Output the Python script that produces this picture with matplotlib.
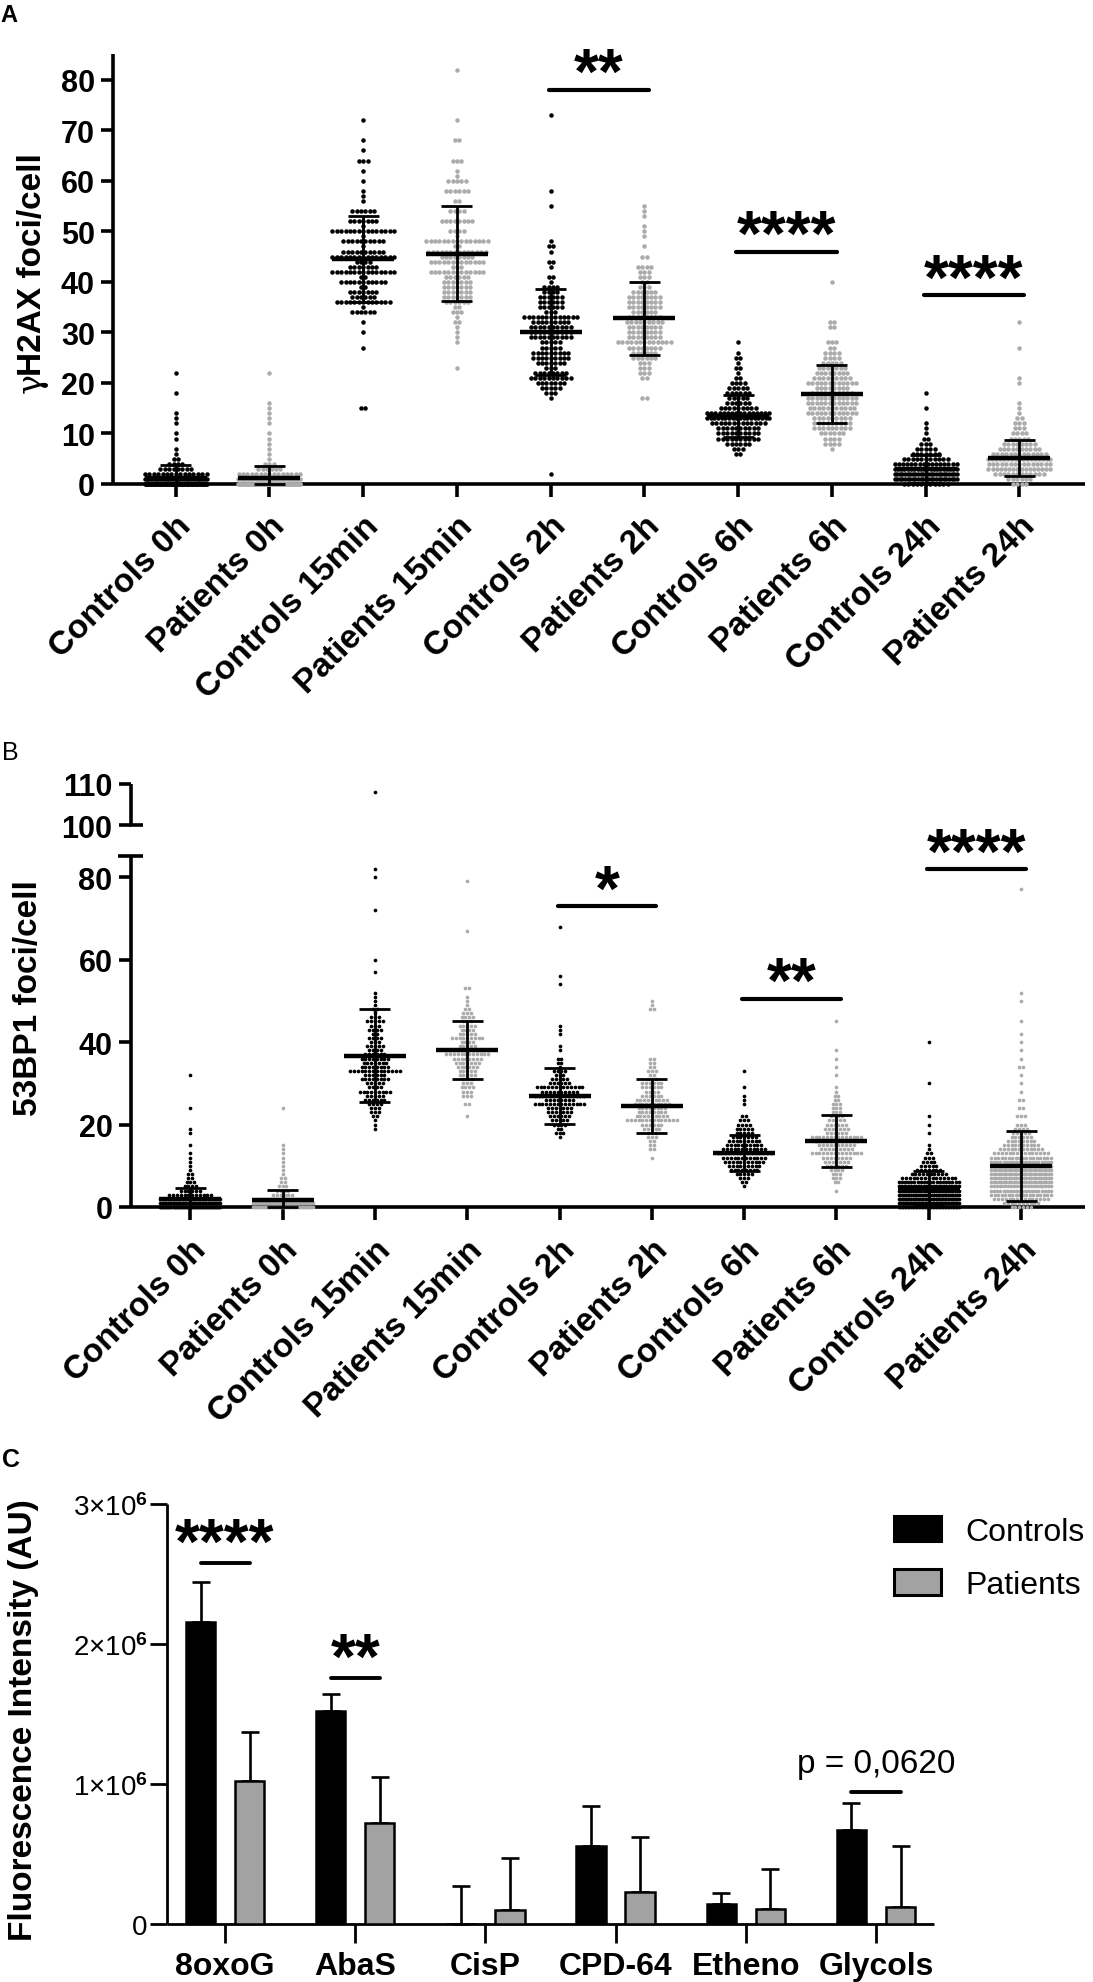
import numpy as np
import matplotlib
matplotlib.use("Agg")
import matplotlib.pyplot as plt
from matplotlib.lines import Line2D
from matplotlib.textpath import TextPath
from matplotlib.font_manager import FontProperties

plt.rcParams['font.family'] = ['Liberation Sans', 'DejaVu Sans']
plt.rcParams['font.weight'] = 'bold'
plt.rcParams['mathtext.fontset'] = 'custom'
plt.rcParams['mathtext.rm'] = 'Liberation Sans'
plt.rcParams['mathtext.it'] = 'Liberation Sans'
plt.rcParams['mathtext.bf'] = 'Liberation Sans:bold'

# ======================= DATA =======================
CATEGORIES = ['Controls 0h', 'Patients 0h', 'Controls 15min', 'Patients 15min',
              'Controls 2h', 'Patients 2h', 'Controls 6h', 'Patients 6h',
              'Controls 24h', 'Patients 24h']

# ---- Panel A: gammaH2AX foci/cell (value -> number of cells) ----
A_C0H_V = [0, 1, 2, 3, 4, 5, 6, 7, 9, 10, 12, 13, 14, 18, 22]
A_C0H_N = [75, 35, 15, 8, 4, 2, 1, 1, 1, 1, 1, 1, 1, 1, 1]
A_P0H_V = [0, 1, 2, 3, 4, 5, 6, 7, 8, 9, 10, 12, 13, 14, 15, 16, 22]
A_P0H_N = [70, 30, 15, 6, 3, 1, 1, 1, 1, 1, 1, 1, 1, 1, 1, 1, 1]
A_C15_V = [15, 27, 30, 32, 34, 35, 36, 37, 38, 39, 40, 41, 42, 43, 44, 45, 46, 47,
           48, 49, 50, 51, 52, 54, 56, 57, 58, 60, 62, 64, 66, 68, 72]
A_C15_N = [2, 1, 1, 1, 6, 1, 13, 6, 7, 2, 11, 2, 15, 7, 4, 15, 10, 1,
           10, 1, 15, 1, 7, 6, 1, 1, 1, 1, 1, 3, 1, 1, 1]
A_P15_V = [23, 28, 29, 30, 31, 32, 33, 34, 35, 36, 37, 38, 39, 40, 41, 42, 43, 44,
           45, 46, 47, 48, 49, 50, 52, 54, 56, 58, 60, 61, 62, 64, 68, 72, 82]
A_P15_N = [1, 1, 1, 1, 1, 2, 1, 3, 2, 6, 7, 7, 7, 7, 6, 13, 3, 13,
           8, 14, 2, 15, 1, 4, 8, 4, 2, 6, 5, 1, 1, 3, 2, 1, 1]
A_C2H_V = [2, 17, 18, 19, 20, 21, 22, 23, 24, 25, 26, 27, 28, 29, 30, 31, 32, 33,
           34, 35, 36, 37, 38, 39, 40, 41, 43, 44, 46, 47, 48, 55, 58, 73]
A_C2H_N = [1, 1, 3, 5, 7, 10, 8, 3, 7, 9, 9, 5, 5, 10, 10, 10, 9, 13,
           3, 6, 6, 6, 4, 4, 1, 2, 1, 2, 1, 2, 1, 1, 1, 1]
A_P2H_V = [17, 21, 22, 23, 24, 25, 26, 27, 28, 29, 30, 31, 32, 33, 34, 35, 36, 37,
           38, 39, 40, 41, 42, 43, 45, 47, 49, 50, 51, 53, 54, 55]
A_P2H_N = [2, 2, 3, 3, 3, 6, 6, 8, 13, 8, 8, 8, 9, 8, 6, 8, 8, 8,
           6, 3, 2, 3, 3, 4, 2, 1, 1, 1, 1, 1, 1, 1]
A_C6H_V = [6, 7, 8, 9, 10, 11, 12, 13, 14, 15, 16, 17, 18, 19, 20, 21, 22, 23, 24, 25, 26, 28]
A_C6H_N = [2, 3, 6, 10, 10, 10, 13, 18, 16, 9, 6, 5, 6, 5, 4, 2, 1, 2, 1, 2, 1, 1]
A_P6H_V = [7, 8, 9, 10, 11, 12, 13, 14, 15, 16, 17, 18, 19, 20, 21, 22, 23, 24, 25,
           26, 27, 28, 31, 32, 40]
A_P6H_N = [1, 4, 4, 6, 9, 9, 9, 12, 11, 12, 12, 10, 8, 12, 9, 8, 7, 5, 4,
           4, 2, 3, 2, 2, 1]
A_C24H_V = [0, 1, 2, 3, 4, 5, 6, 7, 8, 9, 10, 11, 12, 15, 18]
A_C24H_N = [11, 25, 25, 20, 16, 11, 7, 5, 3, 2, 1, 1, 1, 1, 1]
A_P24H_V = [0, 1, 2, 3, 4, 5, 6, 7, 8, 9, 10, 11, 12, 13, 14, 15, 16, 20, 21, 27, 32]
A_P24H_N = [4, 6, 12, 16, 15, 17, 13, 10, 8, 5, 4, 3, 3, 2, 1, 1, 1, 1, 1, 1, 1]

A_MEAN = [1.1, 1.1, 44.5, 45.6, 30.1, 32.8, 13.5, 17.85, 2.9, 5.1]
A_SD = [2.7, 2.5, 8.5, 9.4, 8.5, 7.2, 4.2, 5.75, 2.8, 3.55]
A_SIG_PAIRS = [(4, 5), (6, 7), (8, 9)]
A_SIG_Y = [78, 46, 37.3]
A_SIG_TXT = ['**', '****', '****']

# ---- Panel B: 53BP1 foci/cell (value -> number of cells) ----
B_C0H_V = [0, 1, 2, 3, 4, 5, 6, 7, 8, 9, 10, 11, 12, 13, 15, 18, 19, 24, 32]
B_C0H_N = [60, 40, 25, 12, 6, 4, 3, 2, 2, 1, 1, 1, 1, 1, 1, 1, 1, 1, 1]
B_P0H_V = [0, 1, 2, 3, 4, 5, 6, 7, 8, 9, 10, 11, 12, 13, 14, 15, 24]
B_P0H_N = [45, 30, 15, 6, 4, 3, 2, 2, 1, 1, 1, 1, 1, 1, 1, 1, 1]
B_C15_V = [19, 20, 21, 22, 23, 24, 25, 26, 27, 28, 29, 30, 31, 32, 33, 34, 35, 36, 37,
           38, 39, 40, 41, 42, 43, 44, 45, 46, 47, 48, 49, 50, 51, 52, 57, 60, 72, 80, 82, 108]
B_C15_N = [1, 1, 1, 2, 3, 3, 4, 6, 5, 9, 4, 5, 8, 6, 14, 8, 7, 8, 6,
           4, 5, 3, 4, 2, 4, 3, 5, 3, 1, 2, 1, 1, 1, 1, 1, 1, 1, 1, 1, 1]
B_P15_V = [22, 25, 27, 28, 29, 30, 31, 32, 33, 34, 35, 36, 37, 38, 39, 40, 41, 42, 43,
           44, 45, 46, 47, 48, 49, 50, 51, 53, 67, 79]
B_P15_N = [1, 2, 3, 3, 4, 3, 4, 5, 5, 6, 7, 8, 12, 12, 5, 4, 9, 5, 4,
           5, 3, 4, 3, 2, 1, 1, 1, 2, 1, 1]
B_C2H_V = [17, 18, 19, 20, 21, 22, 23, 24, 25, 26, 27, 28, 29, 30, 31, 32, 33, 34, 35,
           36, 38, 39, 42, 43, 44, 54, 56, 68]
B_C2H_N = [1, 3, 2, 4, 5, 6, 7, 7, 14, 8, 14, 10, 13, 6, 5, 3, 4, 1, 2,
           2, 1, 1, 1, 1, 1, 1, 1, 1]
B_P2H_V = [12, 14, 15, 16, 17, 18, 19, 20, 21, 22, 23, 24, 25, 26, 27, 28, 29, 30, 31,
           32, 33, 34, 35, 36, 48, 49, 50]
B_P2H_N = [1, 2, 2, 2, 3, 3, 5, 6, 14, 9, 8, 8, 10, 9, 6, 4, 6, 6, 3,
           2, 3, 2, 2, 2, 2, 1, 1]
B_C6H_V = [5, 6, 7, 8, 9, 10, 11, 12, 13, 14, 15, 16, 17, 18, 19, 20, 21, 22, 25, 26, 27, 29, 33]
B_C6H_N = [1, 2, 3, 5, 8, 9, 11, 12, 15, 12, 10, 9, 7, 5, 5, 4, 3, 2, 1, 1, 1, 1, 1]
B_P6H_V = [4, 6, 7, 8, 9, 10, 11, 12, 13, 14, 15, 16, 17, 18, 19, 20, 21, 22, 23, 24,
           25, 26, 27, 28, 29, 32, 34, 36, 38, 45]
B_P6H_N = [1, 2, 3, 3, 4, 6, 7, 8, 14, 9, 10, 12, 14, 6, 7, 6, 5, 4, 3, 3,
           3, 2, 2, 1, 1, 1, 1, 1, 1, 1]
B_C24H_V = [0, 1, 2, 3, 4, 5, 6, 7, 8, 9, 10, 11, 12, 13, 14, 15, 18, 20, 22, 30, 40]
B_C24H_N = [40, 45, 40, 35, 30, 25, 20, 15, 10, 7, 5, 4, 3, 2, 1, 1, 1, 1, 1, 1, 1]
B_P24H_V = [0, 1, 2, 3, 4, 5, 6, 7, 8, 9, 10, 11, 12, 13, 14, 15, 16, 17, 18, 19, 20,
            22, 24, 26, 28, 30, 32, 34, 36, 38, 40, 42, 45, 50, 52, 77]
B_P24H_N = [6, 10, 15, 18, 20, 22, 25, 25, 25, 25, 22, 20, 18, 15, 12, 10, 8, 6, 5, 4, 3,
            3, 2, 2, 1, 1, 1, 2, 1, 1, 1, 1, 1, 1, 1, 1]

B_MEAN = [2.0, 1.6, 36.7, 38.1, 26.9, 24.5, 13.1, 15.9, 4.5, 10.0]
B_SD = [2.6, 2.5, 11.2, 7.1, 6.8, 6.65, 4.3, 6.3, 4.3, 8.5]
B_SIG_PAIRS = [(4, 5), (6, 7), (8, 9)]
B_SIG_Y = [73, 50.5, 82]
B_SIG_TXT = ['*', '**', '****']

# ---- Panel C: fluorescence intensity (AU) ----
C_CATS = ['8oxoG', 'AbaS', 'CisP', 'CPD-64', 'Etheno', 'Glycols']
C_CTRL = [2.16e6, 1.52e6, 0.0, 0.56e6, 0.14e6, 0.67e6]
C_CTRL_SD = [0.28e6, 0.12e6, 0.27e6, 0.28e6, 0.085e6, 0.195e6]
C_PAT = [1.02e6, 0.72e6, 0.10e6, 0.23e6, 0.11e6, 0.12e6]
C_PAT_SD = [0.35e6, 0.33e6, 0.37e6, 0.39e6, 0.28e6, 0.44e6]
C_SIG_IDX = [0, 1, 5]
C_SIG_Y = [2.58e6, 1.757e6, 0.943e6]
C_SIG_TXT = ['****', '**', 'p = 0,0620']
C_LEGEND = ['Controls', 'Patients']

A_GROUPS = [(A_C0H_V, A_C0H_N), (A_P0H_V, A_P0H_N), (A_C15_V, A_C15_N), (A_P15_V, A_P15_N),
            (A_C2H_V, A_C2H_N), (A_P2H_V, A_P2H_N), (A_C6H_V, A_C6H_N), (A_P6H_V, A_P6H_N),
            (A_C24H_V, A_C24H_N), (A_P24H_V, A_P24H_N)]
B_GROUPS = [(B_C0H_V, B_C0H_N), (B_P0H_V, B_P0H_N), (B_C15_V, B_C15_N), (B_P15_V, B_P15_N),
            (B_C2H_V, B_C2H_N), (B_P2H_V, B_P2H_N), (B_C6H_V, B_C6H_N), (B_P6H_V, B_P6H_N),
            (B_C24H_V, B_C24H_N), (B_P24H_V, B_P24H_N)]

# ======================= FIGURE =======================
W, H, DPI = 1093, 1983, 100
PT = 72.0 / DPI   # points per pixel
fig = plt.figure(figsize=(W / DPI, H / DPI), dpi=DPI)
DOT_GRAY = '#ababab'
BAR_GRAY = '#a2a2a2'
COLORS = ['k', DOT_GRAY] * 5
STAR_FS = 46
_star_ext = TextPath((0, 0), '*', prop=FontProperties(family='Liberation Sans',
                                                        weight='bold', size=STAR_FS)).get_extents()
STAR_MID_PT = (_star_ext.y0 + _star_ext.y1) / 2.0   # ink centre above baseline, points


def px_axes(x0, ytop, x1, ybot):
    return fig.add_axes([x0 / W, 1 - ybot / H, (x1 - x0) / W, (ybot - ytop) / H])


def fig_line(x0, y0, x1, y1, lw):
    fig.add_artist(Line2D([x0 / W, x1 / W], [1 - y0 / H, 1 - y1 / H],
                          transform=fig.transFigure, color='k', lw=lw,
                          solid_capstyle='butt'))


def style_axis(ax, lw):
    for s in ['top', 'right']:
        ax.spines[s].set_visible(False)
    for s in ['left', 'bottom']:
        ax.spines[s].set_linewidth(lw)
        ax.spines[s].set_capstyle('butt')


def swarm(ax, xc, vals, counts, color, ppu, spacing_px, maxw_px, size, lo=None, hi=None):
    xs, ys = [], []
    for v, n in zip(vals, counts):
        if lo is not None and v < lo:
            continue
        if hi is not None and v > hi:
            continue
        if n > 1:
            step = min(spacing_px, maxw_px / (n - 1))
            offs = (np.arange(n) - (n - 1) / 2.0) * step
        else:
            offs = np.zeros(1)
        xs.extend(xc + offs / ppu)
        ys.extend([v] * n)
    if xs:
        ax.scatter(xs, ys, s=size, color=color, linewidths=0, zorder=3, clip_on=False)


def mean_sd(ax, xc, m, sd, ppu, mean_half, cap_half, lw_mean, lw_sd):
    hi = m + sd
    lo = max(m - sd, 0)
    ax.plot([xc, xc], [lo, hi], color='k', lw=lw_sd, zorder=4, clip_on=False,
            solid_capstyle='butt')
    for yy in (hi, lo):
        ax.plot([xc - cap_half / ppu, xc + cap_half / ppu], [yy, yy], color='k',
                lw=lw_sd, zorder=4, clip_on=False, solid_capstyle='butt')
    ax.plot([xc - mean_half / ppu, xc + mean_half / ppu], [m, m], color='k',
            lw=lw_mean, zorder=5, clip_on=False, solid_capstyle='butt')


def sig_line(ax, xa, xb, y, lw):
    ax.plot([xa, xb], [y, y], color='k', lw=lw, solid_capstyle='round', zorder=5,
            clip_on=False)


def stars(ax, xa, xb, y, txt, gap_px, lw):
    """Line from xa to xb at y, stars whose ink centre sits gap_px above the line."""
    sig_line(ax, xa, xb, y, lw)
    ax.annotate(txt, xy=((xa + xb) / 2, y), xytext=(0, gap_px * PT - STAR_MID_PT),
                textcoords='offset points', ha='center', va='baseline',
                fontsize=STAR_FS, fontweight='bold', annotation_clip=False)


def dot_panel(ax, groups, means, sds, ppu, spacing, maxw, size, lo=None, hi=None,
              with_stats=True):
    for i, (v, n) in enumerate(groups):
        swarm(ax, i, v, n, COLORS[i], ppu, spacing, maxw, size, lo, hi)
        if with_stats:
            mean_sd(ax, i, means[i], sds[i], ppu, 31, 15.5, 3.2, 2.0)


def vlabel(x_base, y_bottom, parts):
    """Vertical label assembled from (text, family, weight, advance_px) pieces."""
    y = y_bottom
    for txt, fam, wt, adv in parts:
        fig.text(x_base / W, 1 - y / H, txt, rotation=90, rotation_mode='anchor',
                 ha='left', va='baseline', fontsize=24, fontweight=wt, family=fam)
        y -= adv


# ---------------- Panel A ----------------
A_X0, A_X1, A_YTOP, A_YBOT = 113, 1085, 55.4, 485
A_CAT0, A_STEP = 175.7, 93.75
axA = px_axes(A_X0, A_YTOP, A_X1, A_YBOT)
axA.set_xlim((A_X0 - A_CAT0) / A_STEP, (A_X1 - A_CAT0) / A_STEP)
axA.set_ylim(0, 85)
style_axis(axA, 2.6)
ppuA = A_STEP
dot_panel(axA, A_GROUPS, A_MEAN, A_SD, ppuA, 4.4, 62, 10.5)
for (i, j), y, t in zip(A_SIG_PAIRS, A_SIG_Y, A_SIG_TXT):
    stars(axA, i - 0.02, j + 0.05, y, t, 29, 3.0)
axA.set_yticks(np.arange(0, 81, 10))
axA.set_xticks(range(len(CATEGORIES)))
axA.set_xticklabels(CATEGORIES, rotation=45, ha='right', va='top', rotation_mode='anchor')
axA.tick_params(axis='y', length=9, width=2.6, pad=4, labelsize=22)
axA.tick_params(axis='x', length=9.5, width=2.6, pad=9, labelsize=24)
vlabel(41, 393, [('γ', ['DejaVu Serif'], 'normal', 17),
                 ('H2AX foci/cell', ['Liberation Sans'], 'bold', 0)])

# ---------------- Panel B ----------------
B_X0, B_X1 = 130.5, 1085
B_YTOP, B_YBOT = 857.4, 1208
BU_YTOP, BU_YBOT = 784.75, 826
B_CAT0, B_STEP = 190.3, 92.3
xlimB = ((B_X0 - B_CAT0) / B_STEP, (B_X1 - B_CAT0) / B_STEP)
axB = px_axes(B_X0, B_YTOP, B_X1, B_YBOT)
axB.set_xlim(*xlimB)
axB.set_ylim(0, 85)
style_axis(axB, 2.6)
axBu = px_axes(B_X0, BU_YTOP, B_X1, BU_YBOT)
axBu.set_xlim(*xlimB)
axBu.set_ylim(100, 110)
style_axis(axBu, 2.6)
axBu.spines['bottom'].set_visible(False)
axBu.set_xticks([])
ppuB = B_STEP
dot_panel(axB, B_GROUPS, B_MEAN, B_SD, ppuB, 3.8, 60, 7, hi=85)
dot_panel(axBu, B_GROUPS, B_MEAN, B_SD, ppuB, 3.8, 60, 7, lo=100, with_stats=False)
for (i, j), y, t in zip(B_SIG_PAIRS, B_SIG_Y, B_SIG_TXT):
    stars(axB, i - 0.02, j + 0.05, y, t, 28.5, 3.0)
axB.set_yticks(np.arange(0, 81, 20))
axBu.set_yticks([100, 110])
axB.set_xticks(range(len(CATEGORIES)))
axB.set_xticklabels(CATEGORIES, rotation=45, ha='right', va='top', rotation_mode='anchor')
axB.tick_params(axis='y', length=9, width=2.6, pad=4, labelsize=22)
axBu.tick_params(axis='y', length=9, width=2.6, pad=4, labelsize=22)
axB.tick_params(axis='x', length=9.5, width=2.6, pad=10, labelsize=24)
# broken-axis caps
fig_line(B_X0 - 1.3, BU_YBOT, B_X0 + 12, BU_YBOT, 2.6)
fig_line(B_X0 - 13, B_YTOP, B_X0 + 12, B_YTOP, 2.6)
fig.text(29 / W, 1 - 998 / H, '53BP1 foci/cell', rotation=90, ha='center', va='center',
         fontsize=24, fontweight='bold')

# ---------------- Panel C ----------------
C_X0, C_X1, C_YTOP, C_YBOT = 167, 934, 1505, 1925
C_CAT0, C_STEP = 225, 130.2
axC = px_axes(C_X0, C_YTOP, C_X1, C_YBOT)
axC.set_xlim((C_X0 - C_CAT0) / C_STEP, (C_X1 - C_CAT0) / C_STEP)
axC.set_ylim(0, 3e6)
style_axis(axC, 2.0)
xc = np.arange(len(C_CATS))
off = 24.5 / C_STEP
bw = 29.5 / C_STEP
axC.errorbar(xc - off, C_CTRL, yerr=[np.zeros(len(xc)), C_CTRL_SD], fmt='none', ecolor='k',
             elinewidth=1.9, capsize=6.5, capthick=1.9, zorder=2, clip_on=False)
axC.errorbar(xc + off, C_PAT, yerr=[np.zeros(len(xc)), C_PAT_SD], fmt='none', ecolor='k',
             elinewidth=1.9, capsize=6.5, capthick=1.9, zorder=2, clip_on=False)
axC.bar(xc - off, C_CTRL, width=bw, color='k', edgecolor='k', linewidth=1.8, zorder=3,
        label=C_LEGEND[0])
axC.bar(xc + off, C_PAT, width=bw, color=BAR_GRAY, edgecolor='k', linewidth=1.8, zorder=3,
        label=C_LEGEND[1])
for i, y, t in zip(C_SIG_IDX, C_SIG_Y, C_SIG_TXT):
    if t.startswith('p'):
        sig_line(axC, i - off, i + off, y, 2.8)
        axC.annotate(t, xy=(i, y), xytext=(0, 20 * PT), textcoords='offset points',
                     ha='center', va='baseline', fontsize=24, fontweight='normal',
                     annotation_clip=False)
    else:
        stars(axC, i - off, i + off, y, t, 32, 2.8)
axC.set_xticks(xc)
axC.set_xticklabels(C_CATS)
axC.set_yticks([0, 1e6, 2e6, 3e6])
axC.set_yticklabels(['0', r'1×10$^{6}$', r'2×10$^{6}$', r'3×10$^{6}$'], fontweight='normal')
axC.tick_params(axis='x', length=13.5, width=2.0, pad=6, labelsize=23)
axC.tick_params(axis='y', length=12, width=2.0, pad=2, labelsize=20)
leg = axC.legend(loc='upper left', bbox_to_anchor=(894 / W, 1 - 1517 / H),
                 bbox_transform=fig.transFigure, frameon=False,
                 prop={'size': 23, 'weight': 'normal'}, handlelength=1.47,
                 handleheight=0.85, handletextpad=0.75, labelspacing=0.7,
                 borderpad=0, borderaxespad=0)
for p in leg.get_patches():
    p.set_linewidth(2.2)
fig.text(24 / W, 1 - 1720 / H, 'Fluorescence Intensity (AU)', rotation=90, ha='center',
         va='center', fontsize=24, fontweight='bold')

# panel letters
fig.text(0 / W, 1 - 15 / H, 'A', ha='left', va='center', fontsize=17, fontweight='bold')
fig.text(2 / W, 1 - 753 / H, 'B', ha='left', va='center', fontsize=18, fontweight='normal')
fig.text(2 / W, 1 - 1460 / H, 'C', ha='left', va='center', fontsize=18, fontweight='bold')

fig.savefig('out.png', dpi=DPI)
